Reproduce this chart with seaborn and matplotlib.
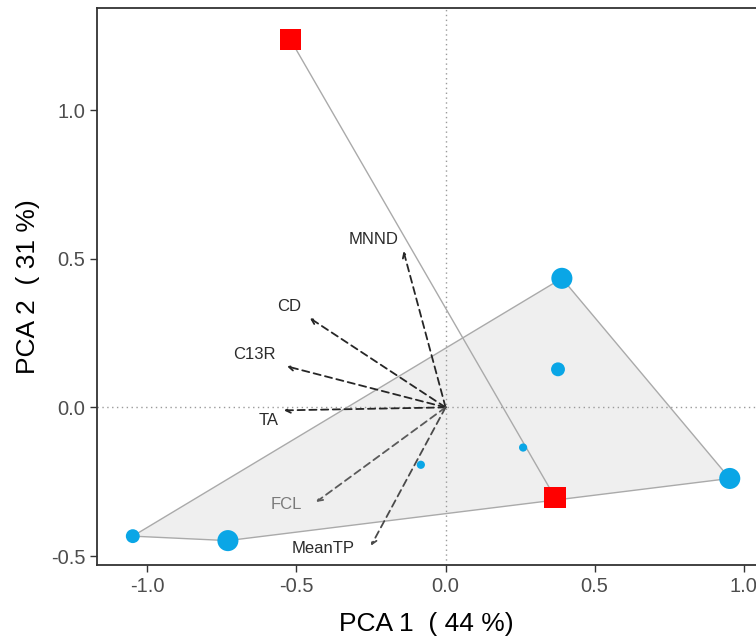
import numpy as np
import pandas as pd
import matplotlib
matplotlib.use('Agg')
import matplotlib.pyplot as plt
import seaborn as sns

# Site scores
pc1 = [-1.049, -0.73, -0.083, 0.26, 0.377, 0.39, 0.953, -0.52, 0.367]
pc2 = [-0.433, -0.448, -0.193, -0.135, 0.128, 0.434, -0.239, 1.236, -0.303]
group = ['A', 'A', 'A', 'A', 'A', 'A', 'A', 'B', 'B']
weight = ['m', 'l', 's', 's', 'm', 'l', 'l', 'l', 'l']

# Variable loadings
var_names = ['MNND', 'CD', 'C13R', 'TA', 'FCL', 'MeanTP']
load1 = [-0.141, -0.455, -0.532, -0.542, -0.434, -0.25]
load2 = [0.525, 0.30, 0.138, -0.01, -0.318, -0.465]
arrow_col = ['#262626', '#262626', '#262626', '#262626', '#5a5a5a', '#4a4a4a']
label_col = ['#2b2b2b', '#2b2b2b', '#2b2b2b', '#2b2b2b', '#7a7a7a', '#2b2b2b']
label_off = [(-0.10, 0.04), (-0.07, 0.04), (-0.11, 0.04), (-0.05, -0.035),
             (-0.10, -0.01), (-0.16, -0.01)]

df = pd.DataFrame({'PC1': pc1, 'PC2': pc2, 'group': group, 'w': weight})


def convex_hull(points):
    P = sorted(map(tuple, points))

    def cross(o, a, b):
        return (a[0]-o[0])*(b[1]-o[1]) - (a[1]-o[1])*(b[0]-o[0])
    lower, upper = [], []
    for p in P:
        while len(lower) >= 2 and cross(lower[-2], lower[-1], p) <= 0:
            lower.pop()
        lower.append(p)
    for p in reversed(P):
        while len(upper) >= 2 and cross(upper[-2], upper[-1], p) <= 0:
            upper.pop()
        upper.append(p)
    return np.array(lower[:-1] + upper[:-1])


sns.set_style('white')
plt.rcParams['font.family'] = ['Liberation Sans', 'DejaVu Sans']

fig = plt.figure(figsize=(7.56, 6.41), dpi=100)
ax = fig.add_axes([97/756, (641-565)/641, 1 - 97/756, (565-8)/641])

# Hulls
for g, fc in [('A', '#efefef'), ('B', 'none')]:
    sub = df[df.group == g][['PC1', 'PC2']].values
    pts = convex_hull(sub) if len(sub) > 2 else sub
    ax.fill(pts[:, 0], pts[:, 1], facecolor=fc, edgecolor='#aaaaaa',
            linewidth=1.0, zorder=1)

ax.axhline(0, color='#9a9a9a', linestyle=(0, (1, 2.5)), linewidth=1, zorder=2)
ax.axvline(0, color='#9a9a9a', linestyle=(0, (1, 2.5)), linewidth=1, zorder=2)

# Loadings arrows
for n, x, y, ac, lc, (dx, dy) in zip(var_names, load1, load2, arrow_col,
                                     label_col, label_off):
    ax.annotate('', xy=(x, y), xytext=(0, 0),
                arrowprops=dict(arrowstyle='->,head_length=0.35,head_width=0.18',
                                linestyle=(0, (4, 2.5)), color=ac,
                                linewidth=1.3, shrinkA=0, shrinkB=0),
                zorder=3)
    ax.text(x + dx, y + dy, n, color=lc, fontsize=12,
            ha='center', va='center', zorder=4)

sns.scatterplot(data=df, x='PC1', y='PC2', hue='group', style='group',
                size='w', sizes={'s': 35, 'm': 100, 'l': 230},
                palette={'A': '#0aa6e6', 'B': '#ff0000'},
                markers={'A': 'o', 'B': 's'}, linewidth=0,
                legend=False, ax=ax, zorder=5)

ax.set_xlim(-1.169, 1.041)
ax.set_ylim(-0.53, 1.343)
ax.set_xticks([-1.0, -0.5, 0.0, 0.5, 1.0])
ax.set_yticks([-0.5, 0.0, 0.5, 1.0])
ax.set_xticklabels(['-1.0', '-0.5', '0.0', '0.5', '1.0'])
ax.set_yticklabels(['-0.5', '0.0', '0.5', '1.0'])
ax.tick_params(axis='both', direction='out', length=5, width=1,
               color='#333333', labelcolor='#4d4d4d', labelsize=14.5,
               bottom=True, left=True)
for s in ['left', 'bottom', 'top']:
    ax.spines[s].set_color('#333333')
    ax.spines[s].set_linewidth(1.3)
ax.spines['right'].set_visible(False)

ax.set_xlabel('PCA 1  ( 44 %)', fontsize=19, color='black', labelpad=12)
ax.set_ylabel('PCA 2  ( 31 %)', fontsize=19, color='black', labelpad=8)

fig.savefig('out.png', dpi=100)
